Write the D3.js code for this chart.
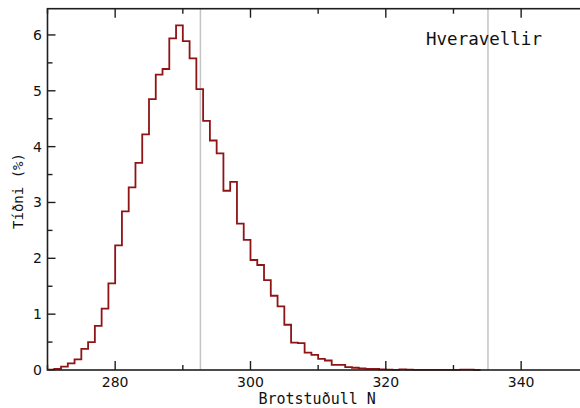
<!DOCTYPE html>
<html>
<head>
<meta charset="utf-8">
<script src="https://cdn.jsdelivr.net/npm/d3@7"></script>
<style>
  body { margin: 0; background: white; }
  svg { display: block; }
</style>
</head>
<body>
<script>
// histogram bins (start of each 1-unit bin) and their frequency in %
var binStart = d3.range(270, 334);
var freq = [
  0.005, 0.02, 0.06, 0.12, 0.19, 0.38, 0.50, 0.79, 1.10, 1.55,
  2.23, 2.84, 3.27, 3.71, 4.22, 4.85, 5.29, 5.39, 5.94, 6.17,
  5.89, 5.58, 5.03, 4.46, 4.11, 3.88, 3.21, 3.37, 2.62, 2.33,
  1.97, 1.88, 1.61, 1.33, 1.14, 0.81, 0.49, 0.48, 0.31, 0.27,
  0.20, 0.17, 0.09, 0.09, 0.05, 0.04, 0.03, 0.02, 0.02, 0.01,
  0.005, 0.003, 0.01, 0.005, 0.002, 0.002, 0.002, 0.002, 0.002, 0.002,
  0.002, 0.005, 0.005, 0
];
var refLines = [292.6, 335.1];
var xMajor = [280, 300, 320, 340];
var xMinor = [270, 290, 310, 330, 350];
var yMajor = [0, 1, 2, 3, 4, 5, 6];
var yMinor = [0.5, 1.5, 2.5, 3.5, 4.5, 5.5];
var title = "Hveravellir";
var xTitle = "Brotstuðull N";
var yTitle = "Tíðni (%)";

var w = 580;
var h = 408;
// plot edges (names avoid window.top etc.)
var pL = 47.5, pR = 588.8, pT = 8.7, pB = 370;

var svg = d3.select("body").append("svg")
  .attr("width", w)
  .attr("height", h);

var x = d3.scaleLinear().domain([270, 350]).range([pL, pR]);
var y = d3.scaleLinear().domain([0, 6.47]).range([pB, pT]);

// grey reference lines
svg.selectAll("line.ref")
  .data(refLines)
  .join("line")
  .attr("class", "ref")
  .attr("x1", function (d) { return x(d); })
  .attr("x2", function (d) { return x(d); })
  .attr("y1", pT)
  .attr("y2", pB)
  .attr("stroke", "#c4c4c4")
  .attr("stroke-width", 1.5);

// step histogram
var pts = binStart.map(function (b, i) { return [b, freq[i]]; });
pts.push([binStart[binStart.length - 1] + 1, 0]);
var line = d3.line()
  .x(function (d) { return x(d[0]); })
  .y(function (d) { return y(d[1]); })
  .curve(d3.curveStepAfter);

svg.append("path")
  .datum(pts)
  .attr("d", line)
  .attr("fill", "none")
  .attr("stroke", "#8e1416")
  .attr("stroke-width", 1.8);

// frame
var axisCol = "#1e1e1e";
svg.append("rect")
  .attr("x", pL)
  .attr("y", pT)
  .attr("width", pR - pL)
  .attr("height", pB - pT)
  .attr("fill", "none")
  .attr("stroke", axisCol)
  .attr("stroke-width", 1.6);

// inward ticks on all four sides
function ticks(vals, len, horiz) {
  vals.forEach(function (v) {
    if (horiz) {
      svg.append("line").attr("x1", x(v)).attr("x2", x(v))
        .attr("y1", pB).attr("y2", pB - len)
        .attr("stroke", axisCol).attr("stroke-width", 1.4);
      svg.append("line").attr("x1", x(v)).attr("x2", x(v))
        .attr("y1", pT).attr("y2", pT + len)
        .attr("stroke", axisCol).attr("stroke-width", 1.4);
    } else {
      svg.append("line").attr("x1", pL).attr("x2", pL + len)
        .attr("y1", y(v)).attr("y2", y(v))
        .attr("stroke", axisCol).attr("stroke-width", 1.4);
      svg.append("line").attr("x1", pR).attr("x2", pR - len)
        .attr("y1", y(v)).attr("y2", y(v))
        .attr("stroke", axisCol).attr("stroke-width", 1.4);
    }
  });
}
ticks(xMajor, 9, true);
ticks(xMinor, 5, true);
ticks(yMajor.slice(1), 8, false);
ticks(yMinor, 5, false);

// tick labels
svg.selectAll("text.xl")
  .data(xMajor)
  .join("text")
  .attr("class", "xl")
  .attr("x", function (d) { return x(d); })
  .attr("y", 387)
  .attr("text-anchor", "middle")
  .attr("font-family", "DejaVu Sans, sans-serif")
  .attr("font-size", 14)
  .attr("fill", "#111")
  .text(function (d) { return d; });

svg.selectAll("text.yl")
  .data(yMajor)
  .join("text")
  .attr("class", "yl")
  .attr("x", 42)
  .attr("y", function (d) { return y(d) + 5; })
  .attr("text-anchor", "end")
  .attr("font-family", "DejaVu Sans, sans-serif")
  .attr("font-size", 14)
  .attr("fill", "#111")
  .text(function (d) { return d; });

// titles
svg.append("text")
  .attr("x", (pL + pR) / 2 - 1)
  .attr("y", 404)
  .attr("text-anchor", "middle")
  .attr("font-family", "DejaVu Sans Mono, monospace")
  .attr("font-size", 15)
  .attr("fill", "#111")
  .text(xTitle);

svg.append("text")
  .attr("transform", "translate(23,191) rotate(-90)")
  .attr("text-anchor", "middle")
  .attr("font-family", "DejaVu Sans Mono, monospace")
  .attr("font-size", 14)
  .attr("fill", "#111")
  .text(yTitle);

svg.append("text")
  .attr("x", 484)
  .attr("y", 45)
  .attr("text-anchor", "middle")
  .attr("font-family", "DejaVu Sans Mono, monospace")
  .attr("font-size", 17.5)
  .attr("fill", "#111")
  .text(title);
</script>
</body>
</html>
